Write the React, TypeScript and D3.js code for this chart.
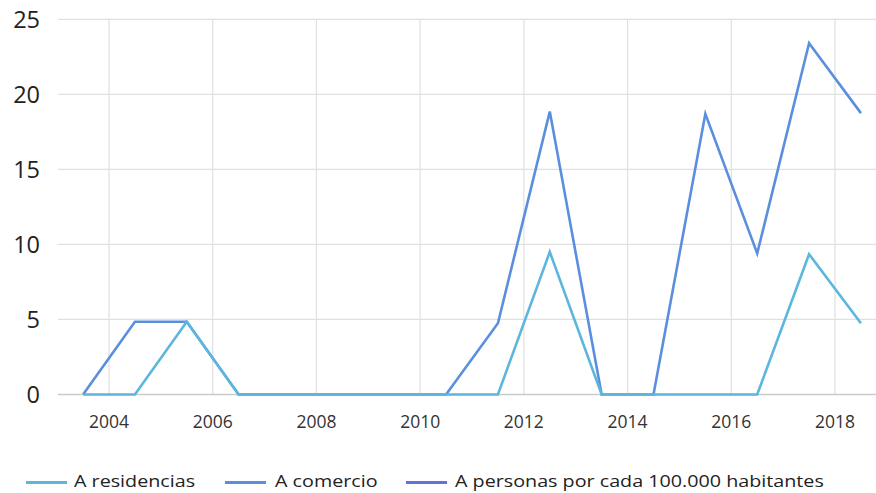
import React from "react";
import * as d3 from "d3";

const years = [2003.5, 2004.5, 2005.5, 2006.5, 2007.5, 2008.5, 2009.5, 2010.5, 2011.5, 2012.5, 2013.5, 2014.5, 2015.5, 2016.5, 2017.5, 2018.5];
const residencias = [0, 0, 4.85, 0, 0, 0, 0, 0, 0, 9.5, 0, 0, 0, 0, 9.35, 4.75];
const comercio = [0, 4.85, 4.85, 0, 0, 0, 0, 0, 4.75, 18.85, 0, 0, 18.7, 9.4, 23.4, 18.75];
const personas: (number | null)[] = [null, null, null, null, null, null, null, null, null, null, null, null, null, null, null, null];
const seriesNames = ["A residencias", "A comercio", "A personas por cada 100.000 habitantes"];
const seriesColors = ["#5cb6dd", "#5b8fde", "#6571db"];
const yTicks = [0, 5, 10, 15, 20, 25];
const xTicks = [2004, 2006, 2008, 2010, 2012, 2014, 2016, 2018];

const W = 876;
const H = 493;
const FONT = "'Open Sans', 'Noto Sans', sans-serif";

export default function App() {
  const x = d3.scaleLinear().domain([2004, 2018]).range([109, 835]);
  const y = d3.scaleLinear().domain([0, 25]).range([394.5, 19.3]);
  const left = 58;
  const right = 876;

  const line = d3
    .line<[number, number | null]>()
    .defined((d) => d[1] !== null)
    .x((d) => x(d[0]))
    .y((d) => y(d[1] as number));

  const data = [personas, comercio, residencias];
  const colorIdx = [2, 1, 0];

  const legendItems = [
    { lx: 26, tx: 74 },
    { lx: 225, tx: 275 },
    { lx: 406, tx: 455 },
  ];

  return (
    <svg
      width={W}
      height={H}
      style={{ position: "absolute", left: 0, top: 0, display: "block", background: "#fff" }}
      fontFamily={FONT}
    >
      {yTicks.map((t) => (
        <g key={"y" + t}>
          {t !== 0 && (
            <line x1={left} x2={right} y1={y(t)} y2={y(t)} stroke="#e0e0e0" strokeWidth={1.2} />
          )}
          <text x={40} y={y(t)} dy="0.35em" textAnchor="end" fontSize={23.5} fill="#222">
            {t}
          </text>
        </g>
      ))}
      {xTicks.map((t) => (
        <g key={"x" + t}>
          <line x1={x(t)} x2={x(t)} y1={y(25)} y2={y(0)} stroke="#e0e0e0" strokeWidth={1.2} />
          <text x={x(t)} y={428} textAnchor="middle" fontSize={17.5} fill="#333">
            {t}
          </text>
        </g>
      ))}
      <line x1={left} x2={right} y1={y(0)} y2={y(0)} stroke="#cccccc" strokeWidth={1.5} />
      {data.map((vals, i) => (
        <path
          key={"s" + i}
          d={line(years.map((yr, j) => [yr, vals[j]] as [number, number | null])) || ""}
          fill="none"
          stroke={seriesColors[colorIdx[i]]}
          strokeWidth={2.6}
          strokeLinejoin="miter"
        />
      ))}
      {seriesNames.map((name, i) => (
        <g key={"l" + i}>
          <line
            x1={legendItems[i].lx}
            x2={legendItems[i].lx + 41}
            y1={482.5}
            y2={482.5}
            stroke={seriesColors[i]}
            strokeWidth={2.8}
          />
          <text
            transform={`translate(${legendItems[i].tx},487) scale(1.16,1)`}
            fontSize={17}
            fill="#222"
          >
            {name}
          </text>
        </g>
      ))}
    </svg>
  );
}
